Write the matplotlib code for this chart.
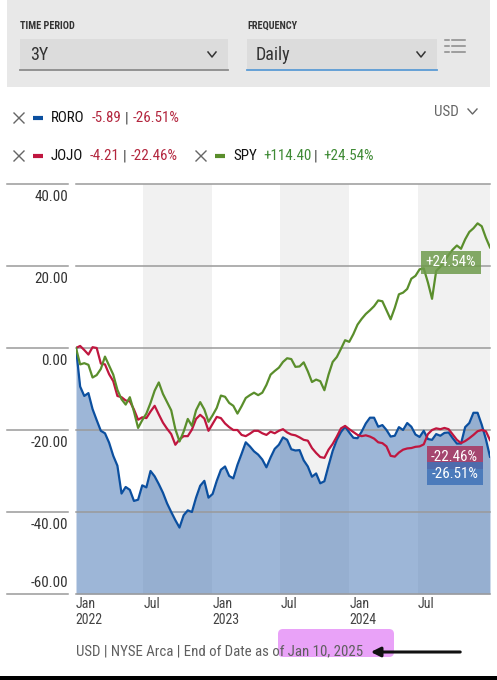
import matplotlib
matplotlib.use('Agg')
import matplotlib.pyplot as plt
import matplotlib.dates as mdates
import pandas as pd
from matplotlib import font_manager
from matplotlib.patches import Rectangle, FancyBboxPatch

names = {f.name for f in font_manager.fontManager.ttflist}
FONT = next((n for n in ['Roboto Condensed', 'Liberation Sans Narrow', 'Roboto'] if n in names), 'DejaVu Sans')
plt.rcParams['font.family'] = [FONT, 'DejaVu Sans']

# ---------------- data ----------------
start_date, end_date = '2022-01-03', '2025-01-10'
tickers = ['RORO', 'JOJO', 'SPY']
price_change = [-5.89, -4.21, 114.40]
series_colors = ['#0b4f9f', '#c0163f', '#5a8e2c']

roro = [0, -9.4, -11.7, -11.0, -14.9, -17.6, -20.2, -20.8, -23.1, -26.3,
        -28.7, -35.5, -33.9, -34.6, -37.3, -37.0, -33.5, -34.0, -30.0, -31.3,
        -33.2, -35.3, -37.9, -40.0, -42.0, -43.8, -40.8, -39.6, -40.0, -36.5,
        -33.6, -32.4, -36.5, -35.6, -32.4, -29.7, -28.9, -31.2, -31.8, -28.5,
        -25.8, -23.0, -24.0, -25.2, -26.0, -27.2, -29.1, -26.7, -24.6, -23.6,
        -21.8, -22.4, -24.7, -25.0, -24.9, -27.4, -28.9, -31.4, -30.6, -33.0,
        -32.5, -28.7, -25.1, -22.4, -20.5, -19.2, -20.6, -21.9, -22.0, -20.4,
        -18.4, -17.0, -17.0, -19.2, -18.8, -20.0, -21.6, -21.4, -19.3, -20.0,
        -18.3, -19.2, -21.1, -21.7, -20.2, -22.2, -22.4, -21.0, -21.4, -20.7,
        -20.6, -22.0, -23.3, -23.3, -19.3, -18.3, -15.8, -15.8, -18.7, -22.2,
        -26.51]

jojo = [0, 0.5, -0.5, -1.6, 0.2, 0.0, -3.8, -4.0, -6.4, -8.1,
        -11.7, -12.0, -12.8, -13.0, -15.0, -17.5, -16.9, -17.1, -15.5, -14.1,
        -16.2, -18.2, -19.7, -21.0, -23.6, -22.3, -21.5, -21.5, -19.9, -17.3,
        -16.3, -17.2, -20.2, -18.5, -16.8, -17.1, -18.4, -19.3, -20.0, -20.0,
        -21.2, -21.5, -20.9, -20.2, -20.2, -20.8, -21.2, -20.4, -20.8, -20.2,
        -19.8, -20.6, -21.1, -21.3, -21.8, -22.4, -22.6, -24.4, -25.6, -26.6,
        -26.8, -24.8, -23.4, -21.6, -19.6, -19.0, -19.8, -20.5, -21.2, -21.5,
        -21.3, -21.6, -22.1, -23.0, -23.2, -24.0, -26.3, -26.5, -25.5, -24.8,
        -24.5, -24.4, -24.1, -24.0, -23.5, -21.0, -20.0, -19.6, -19.8, -19.5,
        -19.8, -21.1, -22.4, -23.2, -22.7, -22.0, -21.2, -20.3, -20.0, -20.3,
        -22.46]

spy = [0, -4.0, -3.7, -4.1, -7.2, -6.6, -5.1, -2.1, -4.3, -6.5,
       -10.2, -12.5, -13.8, -12.0, -15.5, -19.5, -17.6, -16.0, -13.4, -10.4,
       -8.4, -11.2, -13.2, -15.2, -19.8, -22.8, -20.4, -17.3, -19.0, -15.2,
       -13.2, -15.0, -18.0, -16.4, -14.6, -11.6, -11.9, -13.4, -14.1, -16.0,
       -14.2, -12.2, -11.5, -10.9, -11.5, -10.9, -9.0, -6.5, -5.6, -4.8,
       -3.4, -2.5, -2.7, -4.6, -4.5, -3.5, -5.7, -8.3, -7.7, -8.1,
       -10.3, -6.5, -3.4, -2.2, -0.2, 1.9, 1.5, 3.4, 5.7, 7.1,
       8.3, 9.2, 10.2, 11.6, 11.4, 9.2, 7.0, 9.8, 13.1, 13.5,
       14.4, 16.9, 17.6, 19.2, 19.4, 16.0, 12.0, 18.8, 19.8, 21.2,
       22.7, 24.0, 25.0, 24.2, 26.5, 28.3, 29.2, 30.4, 29.7, 26.9,
       24.54]

y_ticks = [40, 20, 0, -20, -40, -60]
x_tick_dates = ['2022-01-01', '2022-07-01', '2023-01-01', '2023-07-01', '2024-01-01', '2024-07-01']
x_tick_labels = ['Jan\n2022', 'Jul', 'Jan\n2023', 'Jul', 'Jan\n2024', 'Jul']
band_ranges = [('2022-07-01', '2023-01-01'), ('2023-07-01', '2024-01-01'), ('2024-07-01', '2025-01-10')]
footer = 'USD | NYSE Arca | End of Date as of Jan 10, 2025'

dates = mdates.date2num(pd.date_range(start_date, end_date, periods=len(roro)).to_pydatetime())
values = [roro, jojo, spy]

def dnum(s):
    return mdates.date2num(pd.Timestamp(s).to_pydatetime())

# ---------------- figure ----------------
fig = plt.figure(figsize=(4.97, 6.80), dpi=100)
fig.patch.set_facecolor('white')
ui = fig.add_axes([0, 0, 1, 1], zorder=0)
ui.set_xlim(0, 497)
ui.set_ylim(680, 0)
ui.axis('off')

# top control panel
ui.add_patch(Rectangle((7, 0), 483, 87, color='#e8e8e8', lw=0))
ui.text(20, 26, 'TIME PERIOD', fontsize=7.4, fontweight='bold', color='#333333', va='center')
ui.text(247, 26, 'FREQUENCY', fontsize=7.4, fontweight='bold', color='#333333', va='center')
ui.add_patch(Rectangle((20, 39), 208, 31, color='#dcdcdc', lw=0))
ui.plot([20, 228], [70, 70], color='#8c8c8c', lw=1.3)
ui.add_patch(Rectangle((247, 39), 190, 31, color='#dcdcdc', lw=0))
ui.plot([247, 437], [70, 70], color='#5b9bd5', lw=1.3)
ui.text(30, 55, '3Y', fontsize=13, color='#333333', va='center')
ui.text(256, 55, 'Daily', fontsize=13, color='#333333', va='center')
for cx in (212, 421):
    ui.plot([cx - 4, cx, cx + 4], [52, 57, 52], color='#333333', lw=1.1)
for yy in (40, 46, 52):
    ui.plot([445, 449], [yy, yy], color='#8a8a8a', lw=1.1)
    ui.plot([452, 465], [yy, yy], color='#8a8a8a', lw=1.1)

# legend rows
def legend_item(x, y, name, color, chg, pct, chg_x, bar_x, pct_x, val_color):
    ui.plot([x - 5, x + 5], [y - 5, y + 5], color='#666666', lw=1.0)
    ui.plot([x - 5, x + 5], [y + 5, y - 5], color='#666666', lw=1.0)
    ui.plot([x + 14, x + 24], [y, y], color=color, lw=3, solid_capstyle='butt')
    ui.text(x + 32, y, name, fontsize=10.8, color='#111111', va='center')
    ui.text(chg_x, y, f'{chg:+.2f}' if chg > 0 else f'{chg:.2f}', fontsize=10.8, color=val_color, va='center')
    ui.text(bar_x, y, '|', fontsize=10.8, color='#444444', va='center')
    ui.text(pct_x, y, f'{pct:+.2f}%', fontsize=10.8, color=val_color, va='center')

legend_item(19, 118, tickers[0], series_colors[0], price_change[0], roro[-1], 92, 125, 133, '#b3263e')
legend_item(19, 156, tickers[1], series_colors[1], price_change[1], jojo[-1], 90, 123, 131, '#b3263e')
legend_item(201, 156, tickers[2], series_colors[2], price_change[2], spy[-1], 263, 314, 323, '#3f8a35')
ui.text(434, 112, 'USD', fontsize=10.8, color='#666666', va='center')
ui.plot([468, 472.5, 477], [109, 114, 109], color='#666666', lw=1.0)

# ---------------- chart ----------------
ax = fig.add_axes([76 / 497, 1 - 594 / 680, 414 / 497, 410 / 680], zorder=1)
ax.set_facecolor('none')
ax.set_xlim(dnum(start_date), dnum(end_date))
ax.set_ylim(-60, 40)
for s in ax.spines.values():
    s.set_visible(False)
ax.set_xticks([])
ax.set_yticks([])

for a, b in band_ranges:
    ax.axvspan(dnum(a), dnum(b), color='#f1f1f1', lw=0, zorder=0)

ax.fill_between(dates, roro, -60, color='#3d6eb0', alpha=0.5, lw=0, zorder=1)

ytr = ax.get_yaxis_transform()
for v in y_ticks:
    ax.plot([0, 1], [v, v], transform=ytr, color='#9a9a9a', lw=1.1, zorder=2, clip_on=False)
    ax.plot([-0.1667, -0.0193], [v, v], transform=ytr, color='#9a9a9a', lw=1.1, clip_on=False)
    off = 11 if v == y_ticks[-1] else -13
    ax.annotate(f'{v:.2f}', xy=(0, v), xycoords=ytr, xytext=(-8, off), textcoords='offset pixels',
                ha='right', va='center', fontsize=10.8, color='#333333', annotation_clip=False)

for vals, col in zip(values, series_colors):
    ax.plot(dates, vals, color=col, lw=1.6, zorder=3, solid_joinstyle='round')

xtr = ax.get_xaxis_transform()
for d, lab in zip(x_tick_dates, x_tick_labels):
    ax.annotate(lab, xy=(dnum(d), 0), xycoords=xtr, xytext=(0, -3), textcoords='offset pixels',
                ha='left', va='top', fontsize=10, color='#444444', linespacing=1.2, annotation_clip=False)

# end value labels
end_specs = [(spy, '#6f9b4c', -15, -14), (jojo, '#a8345e', -17, -12), (roro, '#3f72b8', -17, -12)]
for vals, fc, dy, dx in end_specs:
    ax.annotate(f'{vals[-1]:+.2f}%', xy=(dates[-1], vals[-1]), xytext=(dx, dy), textcoords='offset pixels',
                ha='right', va='center', fontsize=10.8, color='white', zorder=5, annotation_clip=False,
                bbox=dict(boxstyle='square,pad=0.3', fc=fc, ec='none', alpha=0.85))

# footer
ui2 = fig.add_axes([0, 0, 1, 1], zorder=2)
ui2.set_xlim(0, 497)
ui2.set_ylim(680, 0)
ui2.axis('off')
ui2.add_patch(FancyBboxPatch((278, 629), 116, 28, boxstyle='round,pad=0,rounding_size=5',
                             fc='#e9a2f8', ec='none'))
ui2.text(76, 651, footer, fontsize=10.7, color='#5f5f5f', va='center')
ui2.annotate('', xy=(368, 652), xytext=(463, 652),
             arrowprops=dict(arrowstyle='-|>', color='#111111', lw=2.2, mutation_scale=14))
ui2.add_patch(Rectangle((0, 676), 497, 4, color='black', lw=0))

fig.savefig('out.png', dpi=100)
